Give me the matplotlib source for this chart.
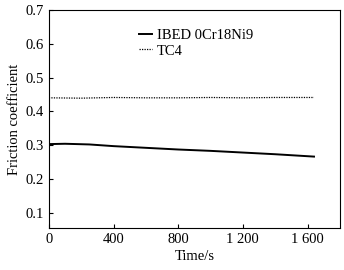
import matplotlib
matplotlib.use("Agg")
import matplotlib.pyplot as plt

plt.rcParams['font.family'] = ['Liberation Serif', 'DejaVu Serif']

t_ibed = [0, 100, 250, 400, 600, 800, 1000, 1200, 1400, 1640]
mu_ibed = [0.303, 0.304, 0.302, 0.297, 0.292, 0.287, 0.283, 0.278, 0.273, 0.266]
t_tc4 = [0, 200, 400, 600, 800, 1000, 1200, 1400, 1640]
mu_tc4 = [0.440, 0.439, 0.441, 0.440, 0.440, 0.441, 0.440, 0.441, 0.441]

xticks = [0, 400, 800, 1200, 1600]
xticklabels = ['0', '400', '800', '1 200', '1 600']
yticks = [0.1, 0.2, 0.3, 0.4, 0.5, 0.6, 0.7]

fig = plt.figure(figsize=(3.44, 2.70), dpi=100)
ax = fig.add_axes([0.142, 0.156, 0.846, 0.807])
ax.plot(t_ibed, mu_ibed, color='black', lw=1.4, label='IBED 0Cr18Ni9')
ax.plot(t_tc4, mu_tc4, color='black', lw=0.9, ls=(0, (1, 1)), label='TC4')
ax.set_xlim(0, 1800)
ax.set_ylim(0.055, 0.7)
ax.set_xticks(xticks)
ax.set_xticklabels(xticklabels)
ax.set_yticks(yticks)
ax.tick_params(direction='in', labelsize=10.5, length=3, width=0.8)
ax.set_xlabel('Time/s', fontsize=10.5, labelpad=3)
ax.set_ylabel('Friction coefficient', fontsize=10.5, labelpad=3)
for s in ax.spines.values():
    s.set_linewidth(0.8)
ax.legend(loc='upper left', bbox_to_anchor=(0.29, 0.94), frameon=False, fontsize=10.5,
          handlelength=0.9, handletextpad=0.3, labelspacing=0.15, borderaxespad=0)
fig.savefig('out.png', dpi=100)
